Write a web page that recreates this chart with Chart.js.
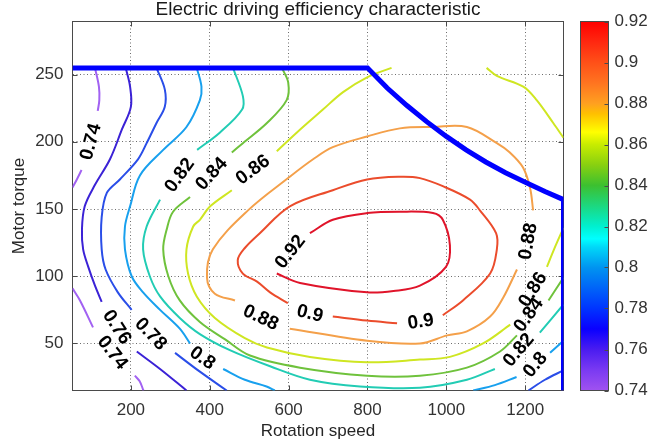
<!DOCTYPE html>
<html>
<head>
<meta charset="utf-8">
<script src="https://cdn.jsdelivr.net/npm/chart.js@4.4.1/dist/chart.umd.min.js"></script>
<style>
  html, body { margin: 0; padding: 0; background: #fff; }
</style>
</head>
<body>
<canvas id="effChart" width="648" height="448"></canvas>
<script>
const speedTicks = [200, 400, 600, 800, 1000, 1200];
const torqueTicks = [50, 100, 150, 200, 250];
const effTicks = [0.74, 0.76, 0.78, 0.8, 0.82, 0.84, 0.86, 0.88, 0.9, 0.92];

// torque limit curve [speed, torque]
const limitCurve = [[52, 255], [800, 255], [850, 240], [900, 227], [950, 215], [1000, 204], [1050, 194],
  [1100, 185], [1150, 177], [1200, 170], [1250, 163], [1297, 157], [1297, 15]];

// contour pieces for each efficiency level [speed, torque]; the gaps hold the labels
const eff074 = [
  [[109, 255], [119, 241], [120, 231], [116, 223]],
  [[75, 179], [63, 172], [52, 166]],
  [[52, 91], [71, 82], [104, 62]],
  [[210, 26], [222, 22], [232, 15]],
];
const eff076 = [
  [[187, 255], [198, 241], [200, 226], [177, 209], [147, 187], [109, 168], [83, 152], [76, 135], [79, 120], [92, 107], [109, 93], [126, 81]],
  [[215, 44], [274, 31], [341, 15]],
];
const eff078 = [
  [[265, 255], [286, 239], [286, 226], [265, 214], [240, 199], [218, 187], [172, 172], [139, 162], [126, 144], [126, 120], [136, 105], [167, 88], [202, 75]],
  [[312, 43], [375, 29], [443, 15]],
  [[1208, 15], [1250, 23], [1297, 30]],
];
const eff080 = [
  [[367, 255], [379, 241], [375, 231], [341, 211], [282, 194], [223, 175], [198, 152], [185, 137], [185, 120], [202, 100], [231, 88], [274, 75], [324, 61], [350, 50]],
  [[434, 31], [489, 23], [544, 18], [565, 15]],
  [[1068, 15], [1123, 19], [1178, 25]],
  [[1263, 43], [1297, 52]],
];
const eff082 = [
  [[459, 255], [484, 234], [482, 224], [426, 207], [368, 194]],
  [[274, 157], [240, 137], [231, 120], [248, 100], [274, 85], [324, 69], [375, 57], [451, 45], [553, 33], [654, 23], [781, 18], [933, 17], [1052, 23], [1123, 31]],
  [[1237, 58], [1297, 79]],
];
const eff084 = [
  [[583, 255], [599, 244], [595, 231], [545, 214], [484, 199], [456, 192]],
  [[350, 159], [307, 148], [291, 135], [282, 120], [295, 100], [324, 82], [375, 66], [439, 53], [502, 41], [629, 32], [799, 26], [933, 26], [1052, 32], [1136, 44], [1179, 56]],
  [[1259, 82], [1297, 99]],
];
const eff086 = [
  [[861, 255], [799, 248], [738, 237], [687, 224], [621, 207], [570, 193]],
  [[456, 164], [401, 152], [375, 142], [358, 137], [341, 120], [345, 102], [367, 85], [413, 69], [489, 54], [545, 47], [654, 40], [799, 36], [933, 38], [1009, 40], [1093, 50], [1162, 64]],
  [[1255, 107], [1273, 120], [1297, 136]],
  [[1102, 255], [1128, 249], [1195, 241], [1229, 231], [1271, 214], [1297, 203]],
];
const eff088 = [
  [[603, 61], [799, 52], [933, 50], [1002, 56], [1052, 59], [1111, 70], [1144, 84], [1179, 105]],
  [[1220, 149], [1212, 166], [1194, 181], [1161, 192], [1128, 199], [1052, 211], [966, 211], [882, 210], [799, 204], [712, 196], [662, 187], [603, 174], [497, 149], [408, 120], [393, 99], [413, 87], [464, 82]],
];
const eff090 = [
  [[712, 70], [799, 67], [875, 65]],
  [[991, 71], [1042, 82], [1111, 102], [1128, 120], [1126, 132], [1085, 149], [1060, 157], [991, 167], [933, 173], [882, 174], [799, 172], [712, 164], [603, 152], [527, 132], [489, 121], [471, 112], [484, 102], [520, 96], [553, 88], [598, 80]],
];
const eff092 = [
  [[654, 132], [712, 142], [799, 147], [882, 148], [966, 147], [991, 142], [1009, 123], [999, 107], [933, 93], [866, 89], [799, 88], [629, 95], [570, 102]],
];
const contours = [eff074, eff076, eff078, eff080, eff082, eff084, eff086, eff088, eff090, eff092];

// inline labels [speed, torque, text] and their rotation in degrees
const labelPos = [
  [99, 200, '0.74'], [324, 175, '0.82'], [405, 176, '0.84'], [510, 179, '0.86'], [605, 118, '0.92'],
  [529, 69, '0.88'], [654, 72, '0.9'], [935, 66, '0.9'], [1208, 126, '0.88'], [1220, 90, '0.86'],
  [1209, 71, '0.84'], [1184, 45, '0.82'], [1226, 34, '0.8'], [153, 43, '0.74'], [164, 62, '0.76'],
  [250, 57, '0.78'], [381, 39, '0.8'],
];
const labelRot = [-75, -54, -47, -36, -52, 25, 14, -8, -80, -58, -55, -50, -50, 52, 57, 46, 35];

const lineColors = ['#a262f2', '#3b22d6', '#2a4ee8', '#18a0ee', '#22ccb4', '#6fc23c', '#cfe622', '#f4a04a', '#eb4c2c', '#e0142a'];
const cbStops = [
  [0.74, '#a052f0'], [0.75, '#7a3af2'], [0.76, '#4a1cf0'], [0.77, '#0a00ff'], [0.78, '#0034ff'], [0.79, '#0064f8'],
  [0.8, '#0094f0'], [0.81, '#00d8f8'], [0.814, '#00ffff'], [0.82, '#00f0d0'], [0.83, '#1cd880'], [0.84, '#3cc030'],
  [0.85, '#88d010'], [0.86, '#c8ec00'], [0.866, '#ffff00'], [0.875, '#ffc000'], [0.88, '#ffa020'], [0.89, '#ff7420'],
  [0.9, '#ff5018'], [0.91, '#ff2810'], [0.92, '#ff0000'],
];

const FONT = '"Liberation Sans", Arial, Helvetica, sans-serif';
const axisColor = '#333';

const datasets = [{
  data: limitCurve.map(([x, y]) => ({ x, y })),
  borderColor: '#0000ff', borderWidth: 5, tension: 0, pointRadius: 0, clip: 0,
}];
contours.forEach((pieces, i) => pieces.forEach((piece) => datasets.push({
  data: piece.map(([x, y]) => ({ x, y })),
  borderColor: lineColors[i], borderWidth: 2, tension: 0.35, pointRadius: 0, clip: 0,
})));

function noPad(s) { s.paddingTop = 0; s.paddingBottom = 0; s.paddingLeft = 0; s.paddingRight = 0; }

const extras = {
  id: 'extras',
  beforeDatasetsDraw(chart) {
    const { ctx, chartArea: a, scales: { x, y } } = chart;
    ctx.save();
    ctx.strokeStyle = '#4a4a4a';
    ctx.lineWidth = 1;
    ctx.strokeRect(a.left, a.top, a.right - a.left, a.bottom - a.top);
    ctx.beginPath();
    speedTicks.forEach((v) => {
      const px = Math.round(x.getPixelForValue(v)) + 0.5;
      ctx.moveTo(px, a.bottom); ctx.lineTo(px, a.bottom - 5);
      ctx.moveTo(px, a.top); ctx.lineTo(px, a.top + 5);
    });
    torqueTicks.forEach((v) => {
      const py = Math.round(y.getPixelForValue(v)) + 0.5;
      ctx.moveTo(a.left, py); ctx.lineTo(a.left + 5, py);
      ctx.moveTo(a.right, py); ctx.lineTo(a.right - 5, py);
    });
    ctx.stroke();
    ctx.restore();
  },
  afterDatasetsDraw(chart) {
    const { ctx, scales: { x, y } } = chart;
    ctx.save();
    ctx.fillStyle = '#000';
    ctx.font = `bold 19px ${FONT}`;
    ctx.textAlign = 'center';
    ctx.textBaseline = 'middle';
    labelPos.forEach(([n, t, text], i) => {
      ctx.save();
      ctx.translate(x.getPixelForValue(n), y.getPixelForValue(t));
      ctx.rotate(labelRot[i] * Math.PI / 180);
      ctx.fillText(text, 0, 0);
      ctx.restore();
    });
    ctx.restore();
  },
  afterDraw(chart) {
    const { ctx, chartArea: a, scales: { cb } } = chart;
    ctx.save();
    ctx.fillStyle = '#1a1a1a';
    ctx.font = `19px ${FONT}`;
    ctx.textAlign = 'center';
    ctx.textBaseline = 'alphabetic';
    ctx.fillText('Electric driving efficiency characteristic', (a.left + a.right) / 2, 14.6);

    const top = cb.getPixelForValue(0.92);
    const bot = cb.getPixelForValue(0.74);
    const left = a.right + 17;
    const g = ctx.createLinearGradient(0, bot, 0, top);
    cbStops.forEach(([v, c]) => g.addColorStop(Math.min(1, Math.max(0, (v - 0.74) / 0.18)), c));
    ctx.fillStyle = g;
    ctx.fillRect(left, top, 28, bot - top);
    ctx.strokeStyle = '#4a4a4a';
    ctx.lineWidth = 1;
    ctx.strokeRect(left, top, 28, bot - top);
    ctx.beginPath();
    effTicks.forEach((v) => {
      const py = Math.round(cb.getPixelForValue(v)) + 0.5;
      ctx.moveTo(left + 28, py); ctx.lineTo(left + 24, py);
    });
    ctx.stroke();
    ctx.restore();
  },
};

const tickFont = { family: FONT, size: 17 };

new Chart(document.getElementById('effChart'), {
  type: 'line',
  data: { datasets },
  options: {
    responsive: false,
    animation: false,
    events: [],
    layout: { padding: { left: 0, right: 0, top: 21.5, bottom: 0 } },
    plugins: { legend: { display: false }, tooltip: { enabled: false }, title: { display: false } },
    scales: {
      x: {
        type: 'linear', min: 52, max: 1297,
        afterBuildTicks: (axis) => { axis.ticks = speedTicks.map((v) => ({ value: v })); },
        afterFit: (s) => { s.height = 57.5; noPad(s); },
        grid: { color: 'rgba(60,60,60,0.75)', drawTicks: false, lineWidth: 1 },
        border: { display: false, dash: [1, 2.5] },
        ticks: { padding: 10, color: axisColor, font: tickFont, maxRotation: 0, autoSkip: false, callback: (v) => String(v) },
        title: { display: true, text: 'Rotation speed', color: '#262626', font: tickFont, padding: { top: 0, bottom: 6 } },
      },
      y: {
        type: 'linear', position: 'left', min: 15, max: 289.5,
        afterBuildTicks: (axis) => { axis.ticks = torqueTicks.map((v) => ({ value: v })); },
        afterFit: (s) => { s.width = 72.5; noPad(s); },
        grid: { color: 'rgba(60,60,60,0.75)', drawTicks: false, lineWidth: 1 },
        border: { display: false, dash: [1, 2.5] },
        ticks: { padding: 9, color: axisColor, font: tickFont, autoSkip: false, callback: (v) => String(v) },
        title: { display: true, text: 'Motor torque', color: '#262626', font: tickFont, padding: { top: 9, bottom: 0 } },
      },
      cb: {
        type: 'linear', position: 'right', min: 0.74, max: 0.92,
        afterBuildTicks: (axis) => { axis.ticks = effTicks.map((v) => ({ value: v })); },
        afterFit: (s) => { s.width = 84.5; noPad(s); },
        grid: { display: false, drawTicks: false },
        border: { display: false },
        ticks: { padding: 51, color: axisColor, font: tickFont, autoSkip: false, callback: (v) => String(Math.round(v * 100) / 100) },
      },
    },
  },
  plugins: [extras],
});
</script>
</body>
</html>
